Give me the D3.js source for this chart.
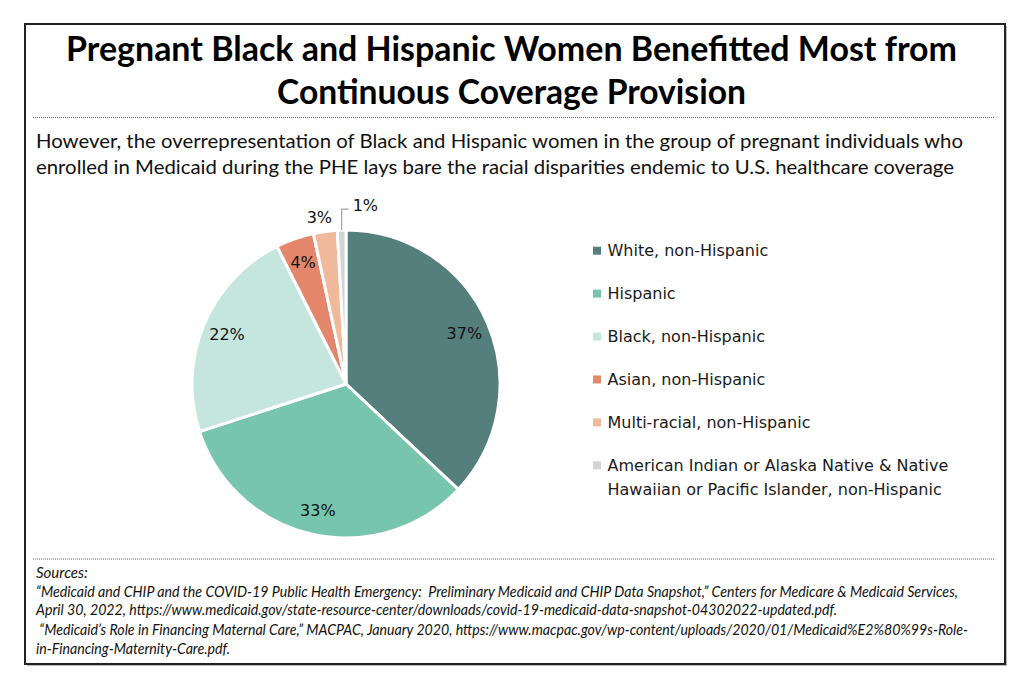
<!DOCTYPE html>
<html><head><meta charset="utf-8">
<script src="https://cdn.jsdelivr.net/npm/d3@7"></script>
<style>html,body{margin:0;padding:0;background:#fff;}</style>
</head><body>
<svg id="chart" width="1024" height="683"></svg>
<script>
const categories = ["White, non-Hispanic","Hispanic","Black, non-Hispanic","Asian, non-Hispanic","Multi-racial, non-Hispanic","American Indian or Alaska Native & Native Hawaiian or Pacific Islander, non-Hispanic"];
const values = [37.0, 33.0, 22.6, 4.0, 2.5, 0.9];
const valueLabels = ["37%","33%","22%","4%","3%","1%"];
const colors = ["#557f7d","#78c5ad","#c5e5df","#e3866b","#f0b99c","#d1d3d4"];
const legendLines = [["White, non-Hispanic"],["Hispanic"],["Black, non-Hispanic"],["Asian, non-Hispanic"],["Multi-racial, non-Hispanic"],["American Indian or Alaska Native & Native","Hawaiian or Pacific Islander, non-Hispanic"]];
const titleLines = ["Pregnant Black and Hispanic Women Benefitted Most from","Continuous Coverage Provision"];
const subtitleLines = ["However, the overrepresentation of Black and Hispanic women in the group of pregnant individuals who","enrolled in Medicaid during the PHE lays bare the racial disparities endemic to U.S. healthcare coverage"];
const sourceLines = ["Sources:",
 "\u201cMedicaid and CHIP and the COVID-19 Public Health Emergency:  Preliminary Medicaid and CHIP Data Snapshot,\u201d Centers for Medicare & Medicaid Services,",
 "April 30, 2022, https://www.medicaid.gov/state-resource-center/downloads/covid-19-medicaid-data-snapshot-04302022-updated.pdf.",
 " \u201cMedicaid\u2019s Role in Financing Maternal Care,\u201d MACPAC, January 2020, https://www.macpac.gov/wp-content/uploads/2020/01/Medicaid%E2%80%99s-Role-",
 "in-Financing-Maternity-Care.pdf."];

const svg = d3.select("#chart");

// frame with slight shadow
svg.append("rect").attr("x",27).attr("y",26).attr("width",980).attr("height",640).attr("fill","#bbb");
svg.append("rect").attr("x",25).attr("y",24).attr("width",980).attr("height",640)
  .attr("fill","#fff").attr("stroke","#222").attr("stroke-width",2);

// title
const titleLen = [891, 469];
const titleBase = [61, 104];
titleLines.forEach((t,i)=>{
  svg.append("text").attr("x",511.5).attr("y",titleBase[i]).attr("text-anchor","middle")
    .attr("font-family","Lato, 'Open Sans', sans-serif").attr("font-weight",700).attr("font-size",35)
    .attr("fill","#000").attr("textLength",titleLen[i]).attr("lengthAdjust","spacingAndGlyphs").text(t);
});

// dotted separators
[[117.5],[559]].forEach(([y])=>{
  svg.append("line").attr("x1",33).attr("x2",995).attr("y1",y).attr("y2",y)
    .attr("stroke","#666").attr("stroke-width",1).attr("stroke-dasharray","1,1");
});

// subtitle
const subLen = [927, 918];
const subBase = [148, 174];
subtitleLines.forEach((t,i)=>{
  svg.append("text").attr("x",36).attr("y",subBase[i])
    .attr("font-family","Lato, 'Open Sans', sans-serif").attr("font-size",20)
    .attr("fill","#111").attr("textLength",subLen[i]).attr("lengthAdjust","spacingAndGlyphs").text(t);
});

// pie
const cx = 346, cy = 384, R = 154;
const pie = d3.pie().sort(null).value(d=>d);
const arcs = pie(values);
const arc = d3.arc().innerRadius(0).outerRadius(R);
const g = svg.append("g").attr("transform",`translate(${cx},${cy})`);
g.selectAll("path.slice").data(arcs).join("path").attr("class","slice")
  .attr("d",arc).attr("fill",(d,i)=>colors[i]).attr("stroke","#fff").attr("stroke-width",3).attr("stroke-linejoin","round");

const labelFont = "'DejaVu Sans', Verdana, sans-serif";
const inArc = d3.arc().innerRadius(129).outerRadius(129);
const outArc = d3.arc().innerRadius(168).outerRadius(168);
arcs.forEach((d,i)=>{
  if (i < 4) {
    const [x,y] = inArc.centroid(d);
    g.append("text").attr("x",x).attr("y",y).attr("dy","0.36em").attr("text-anchor","middle")
      .attr("font-family",labelFont).attr("font-size",16).attr("fill","#111").text(valueLabels[i]);
  } else if (i === 4) {
    const [x,y] = outArc.centroid(d);
    g.append("text").attr("x",x-4).attr("y",y).attr("dy","0.36em").attr("text-anchor","middle")
      .attr("font-family",labelFont).attr("font-size",16).attr("fill","#111").text(valueLabels[i]);
  } else {
    const a = (d.startAngle + d.endAngle)/2;
    const sx = R*Math.sin(a), sy = -R*Math.cos(a);
    const ey = sy - 21;
    g.append("polyline").attr("points",`${sx},${sy} ${sx},${ey} ${sx+7},${ey}`)
      .attr("fill","none").attr("stroke","#a6a6a6").attr("stroke-width",1.2);
    g.append("text").attr("x",sx+11).attr("y",ey-4).attr("dy","0.36em").attr("text-anchor","start")
      .attr("font-family",labelFont).attr("font-size",16).attr("fill","#111").text(valueLabels[i]);
  }
});

// legend
const ly = d3.scalePoint().domain(categories).range([250.7, 465.3]);
categories.forEach((c,i)=>{
  const y = ly(c);
  svg.append("rect").attr("x",593).attr("y",y-4).attr("width",8).attr("height",8).attr("fill",colors[i]);
  legendLines[i].forEach((t,j)=>{
    svg.append("text").attr("x",607.5).attr("y",y+j*24).attr("dy","0.36em")
      .attr("font-family",labelFont).attr("font-size",16).attr("fill","#1a1a1a").text(t);
  });
});

// sources
const srcBase = [578, 597, 615, 635, 654];
const srcLen = [null, 922, 801, 932, 194];
sourceLines.forEach((t,i)=>{
  const el = svg.append("text").attr("x",36).attr("y",srcBase[i]).attr("xml:space","preserve")
    .attr("font-family","Lato, 'Open Sans', sans-serif").attr("font-style","italic").attr("font-size",15)
    .attr("fill","#111").text(t);
  if (srcLen[i]) el.attr("textLength",srcLen[i]).attr("lengthAdjust","spacingAndGlyphs");
});
</script>
</body></html>
